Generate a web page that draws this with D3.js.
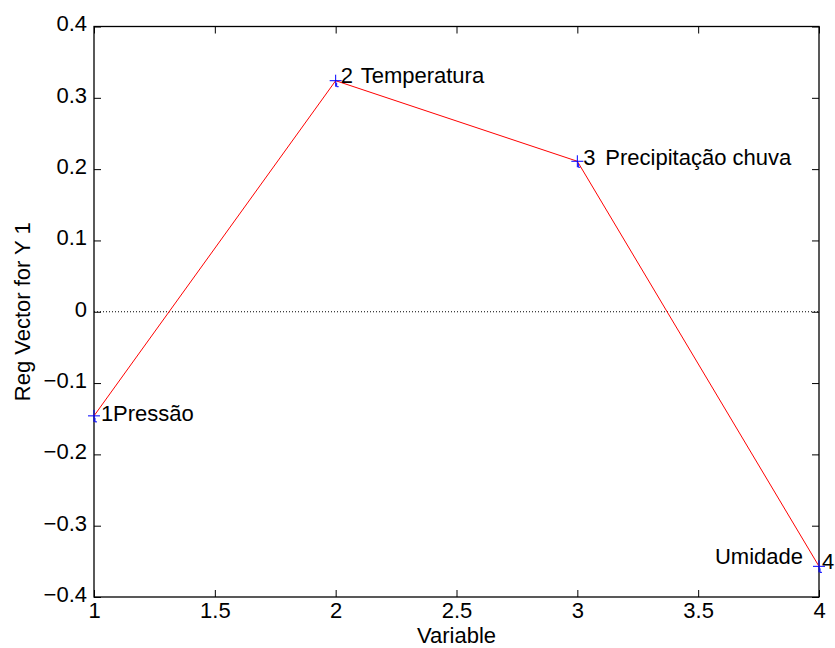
<!DOCTYPE html>
<html>
<head>
<meta charset="utf-8">
<script src="https://cdn.jsdelivr.net/npm/d3@7"></script>
<style>
  html, body { margin: 0; padding: 0; background: #fff; }
  svg { display: block; font-family: "Liberation Sans", Arial, sans-serif; }
</style>
</head>
<body>
<svg id="chart" width="835" height="648"></svg>
<script>
// Regression vector values, one per input variable
const variables = [1, 2, 3, 4];
const regValues = [-0.146, 0.324, 0.211, -0.357];
const varNames = ["Pressão", "Temperatura", "Precipitação chuva", "Umidade"];
const xTicks = [1, 1.5, 2, 2.5, 3, 3.5, 4];
const yTicks = [-0.4, -0.3, -0.2, -0.1, 0, 0.1, 0.2, 0.3, 0.4];

const plot = { left: 94, right: 819, top: 26.5, bottom: 597 };
const svg = d3.select("#chart");

const x = d3.scaleLinear().domain([1, 4]).range([plot.left, plot.right]);
const y = d3.scaleLinear().domain([-0.4, 0.4]).range([plot.bottom, plot.top]);

const fontSize = 22;
const tickLen = 7;

// Zero reference line (dotted)
svg.append("line")
  .attr("x1", x(1)).attr("x2", x(4))
  .attr("y1", y(0)).attr("y2", y(0))
  .attr("stroke", "#000").attr("stroke-width", 1)
  .attr("stroke-dasharray", "1,2");

// Axes: ticks point inward, mirrored on the opposite sides
const fmtX = d => String(d);
const fmtY = d => (d === 0 ? "0" : d3.format(".1f")(d));

const gBottom = svg.append("g").attr("transform", `translate(0,${plot.bottom})`)
  .call(d3.axisBottom(x).tickValues(xTicks).tickFormat(fmtX).tickSizeInner(-tickLen).tickSizeOuter(0).tickPadding(5));
const gTop = svg.append("g").attr("transform", `translate(0,${plot.top})`)
  .call(d3.axisTop(x).tickValues(xTicks).tickFormat("").tickSizeInner(-tickLen).tickSizeOuter(0));
const gLeft = svg.append("g").attr("transform", `translate(${plot.left},0)`)
  .call(d3.axisLeft(y).tickValues(yTicks).tickFormat(fmtY).tickSizeInner(-tickLen).tickSizeOuter(0).tickPadding(7));
const gRight = svg.append("g").attr("transform", `translate(${plot.right},0)`)
  .call(d3.axisRight(y).tickValues(yTicks).tickFormat("").tickSizeInner(-tickLen).tickSizeOuter(0));

[gBottom, gTop, gLeft, gRight].forEach(g => {
  g.select(".domain").remove();
  g.selectAll(".tick line").attr("stroke", "#000").attr("stroke-width", 1);
  g.selectAll(".tick text").attr("fill", "#000").attr("font-size", fontSize)
    .attr("font-family", "'Liberation Sans', Arial, sans-serif");
});
gLeft.selectAll(".tick text").attr("dy", "0.2em");

// Plot box
svg.append("rect")
  .attr("x", plot.left).attr("y", plot.top)
  .attr("width", plot.right - plot.left).attr("height", plot.bottom - plot.top)
  .attr("fill", "none").attr("stroke", "#000").attr("stroke-width", 1.3);

// Axis titles
svg.append("text")
  .attr("x", (plot.left + plot.right) / 2).attr("y", 643)
  .attr("text-anchor", "middle").attr("font-size", fontSize).text("Variable");
svg.append("text")
  .attr("transform", `translate(30,${(plot.top + plot.bottom) / 2}) rotate(-90)`)
  .attr("text-anchor", "middle").attr("font-size", fontSize).text("Reg Vector for Y 1");

// Regression vector line
const pts = variables.map((v, i) => ({ v, r: regValues[i], name: varNames[i] }));
svg.append("path")
  .datum(pts)
  .attr("fill", "none").attr("stroke", "#ff0000").attr("stroke-width", 1)
  .attr("d", d3.line().x(d => x(d.v)).y(d => y(d.r)));

// Plus markers
const mk = 6;
const markers = svg.append("g").selectAll("g").data(pts).join("g")
  .attr("transform", d => `translate(${x(d.v)},${y(d.r)})`);
markers.append("path")
  .attr("d", `M${-mk},0H${mk}M0,${-mk}V${mk}`)
  .attr("stroke", "#0000ff").attr("stroke-width", 1).attr("fill", "none");
markers.append("path")
  .attr("d", "M1,2V6H3")
  .attr("stroke", "#0000ff").attr("stroke-width", 1).attr("fill", "none");

// Point labels: index number then variable name
const numDx = [7, 5, 6, 3];
const numDy = [5, 2, 4, 3];
const nameDx = [19, 25, 28, -16];
const nameDy = [5, 2, 4, -2];
const nameAnchor = ["start", "start", "start", "end"];

svg.append("g").selectAll("text.num").data(pts).join("text")
  .attr("class", "num")
  .attr("x", (d, i) => x(d.v) + numDx[i])
  .attr("y", (d, i) => y(d.r) + numDy[i])
  .attr("font-size", fontSize)
  .text(d => d.v);

svg.append("g").selectAll("text.name").data(pts).join("text")
  .attr("class", "name")
  .attr("x", (d, i) => x(d.v) + nameDx[i])
  .attr("y", (d, i) => y(d.r) + nameDy[i])
  .attr("text-anchor", (d, i) => nameAnchor[i])
  .attr("font-size", fontSize)
  .text(d => d.name);
</script>
</body>
</html>
